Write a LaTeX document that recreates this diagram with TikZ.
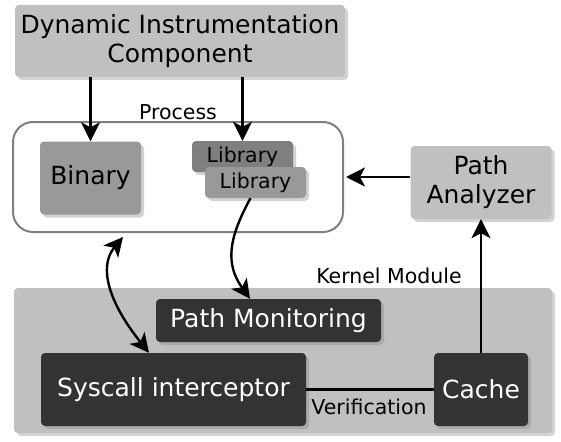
\documentclass[tikz,border=0pt]{standalone}
\usepackage{fontspec}
\setmainfont{DejaVu Sans}
\usepackage{xcolor}
\usetikzlibrary{arrows.meta,positioning,shadows,calc}

\definecolor{lightbox}{HTML}{C0C0C0}
\definecolor{midbox}{HTML}{999999}
\definecolor{darkmid}{HTML}{7F7F7F}
\definecolor{darkbox}{HTML}{333333}

\begin{document}
\begin{tikzpicture}[
          x=1pt, y=-1pt,
          shade box/.style={rectangle, rounded corners=4pt, inner sep=0pt, align=center,
            drop shadow={shadow xshift=3pt, shadow yshift=-3pt, opacity=0.35}},
          big/.style={font=\fontsize{25}{29}\selectfont},
          small/.style={font=\fontsize{20.5}{24}\selectfont},
          light/.style={shade box, big, fill=lightbox},
          unit/.style={shade box, fill=midbox},
          kernel/.style={shade box, big, fill=darkbox, text=white},
          arrow/.style={-{Stealth[length=19pt,width=19pt,inset=5pt]}, line width=2.4pt},
          twoway/.style={{Stealth[length=19pt,width=19pt,inset=5pt]}-{Stealth[length=19pt,width=19pt,inset=5pt]}, line width=2.4pt},
          link/.style={line width=2.4pt}
        ]
          \useasboundingbox (0,0) rectangle (561,441);

          % top component
          \node[light, minimum width=330pt, minimum height=72pt] (dic) at (180,41) {Dynamic Instrumentation\\Component};

          % process container
          \node[rectangle, rounded corners=20pt, draw=gray, line width=2pt, fill=white,
                minimum width=330pt, minimum height=110pt] (proc) at (178,177) {};
          \node[small, anchor=base] (proclbl) at (178,119) {Process};
          \node[unit, big, minimum width=101pt, minimum height=73pt] (bin) at (90.5,178) {Binary};
          \node[unit, small, fill=darkmid, minimum width=101pt, minimum height=31pt] (libb) at (242.5,156.5) {Library};
          \node[unit, small, minimum width=101pt, minimum height=31pt] (libf) at (255.5,182.5) {Library};

          \node[light, minimum width=141pt, minimum height=73pt] (pa) at (481,182.5) {Path\\Analyzer};

          % kernel module
          \node[shade box, fill=lightbox, minimum width=538pt, minimum height=145pt] (kern) at (283,360.5) {};
          \node[small, anchor=base] (kernlbl) at (389,283) {Kernel Module};
          \node[kernel, minimum width=225pt, minimum height=43pt] (pm) at (268.5,320.5) {Path Monitoring};
          \node[kernel, minimum width=265pt, minimum height=73pt] (sys) at (173.5,389.5) {Syscall interceptor};
          \node[kernel, minimum width=94pt, minimum height=73pt] (cache) at (481,389.5) {Cache};

          % connectors
          \draw[arrow] (dic.south -| bin.north) -- (bin.north);
          \draw[arrow] (dic.south -| libb.north) -- (libb.north);
          \draw[arrow] (pa.west |- proc.east) -- ([xshift=2pt]proc.east);
          \draw[arrow] (cache.north) -- (pa.south);
          \draw[link] (sys.east) -- (cache.west);
          \node[small, anchor=base] (verlbl) at (369,414) {Verification};

          \draw[arrow] ([xshift=-5pt]libf.south) .. controls +(-22,40) and +(-25,-35) .. ([xshift=-18.5pt]pm.north);
          \draw[twoway] ([xshift=-55pt,yshift=-4pt]proc.south) .. controls +(-25,30) and +(-40,-50) .. ([xshift=-24.5pt]sys.north);

        \end{tikzpicture}
\end{document}
